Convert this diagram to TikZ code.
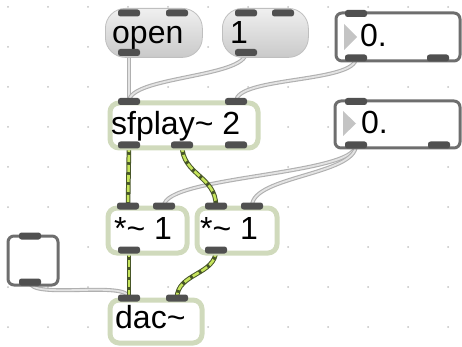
\documentclass[tikz,border=0pt]{standalone}
\usepackage{fontspec}
\setmainfont{Liberation Sans}
\usetikzlibrary{backgrounds}
\definecolor{objedge}{RGB}{208,218,188}
\definecolor{portgray}{RGB}{80,80,80}
\definecolor{numedge}{RGB}{110,110,110}
\definecolor{sigdark}{RGB}{72,86,40}
\definecolor{siglight}{RGB}{198,228,92}
\definecolor{griddot}{RGB}{195,195,195}
\definecolor{arrowgray}{RGB}{196,196,196}
\begin{document}
\begin{tikzpicture}[x=1pt,y=-1pt,
  lbl/.style={anchor=base west, inner sep=0pt, font=\fontsize{32}{36}\selectfont},
  msgbox/.style={rectangle, anchor=north west, inner sep=0pt, rounded corners=20pt,
    top color=gray!12, bottom color=gray!42, draw=gray!50, line width=0.8pt},
  objbox/.style={rectangle, anchor=north west, inner sep=0pt, draw=objedge,
    line width=5pt, fill=white, rounded corners=9pt},
  numbox/.style={rectangle, anchor=north west, inner sep=0pt, draw=numedge,
    line width=3pt, fill=white, rounded corners=6pt},
  port/.style={rectangle, inner sep=0pt, fill=portgray, rounded corners=2.5pt,
    minimum width=22pt, minimum height=7pt},
  cable/.style={draw=gray!62, line width=1.1pt, double=gray!22, double distance=1.8pt},
  signal/.style={draw=siglight, line width=2.6pt, dash pattern=on 7pt off 3pt,
    preaction={draw=sigdark, line width=4.6pt, solid}},
  play/.style={fill=arrowgray}
]
\useasboundingbox (0,0) rectangle (462,347);

% boxes
\node[msgbox, minimum width=97pt, minimum height=49pt] (open) at (105,8) {};
\node[msgbox, minimum width=86pt, minimum height=49pt] (one) at (222,8) {};
\node[numbox, minimum width=124pt, minimum height=48pt] (numA) at (334.5,11.5) {};
\node[objbox, minimum width=148pt, minimum height=45pt] (sf) at (107.5,100.5) {};
\node[numbox, minimum width=125pt, minimum height=47pt] (numB) at (333.5,99.5) {};
\node[objbox, minimum width=79pt, minimum height=45pt] (mulA) at (105.5,205.5) {};
\node[objbox, minimum width=80pt, minimum height=45pt] (mulB) at (194.5,205.5) {};
\node[numbox, minimum width=50pt, minimum height=49pt] (tog) at (6.5,234.5) {};
\node[objbox, minimum width=92pt, minimum height=43pt] (dac) at (107.5,297.5) {};

% texts
\node[lbl] (open-t) at (112,44) {open};
\node[lbl] (one-t) at (230,44) {1};
\node[lbl] (numA-t) at (360,46.5) {0.};
\node[lbl] (sf-t) at (111,135) {sfplay\textasciitilde{} 2};
\node[lbl] (numB-t) at (361,134) {0.};
\node[lbl] (mulA-t) at (114,239) {*\textasciitilde{} 1};
\node[lbl] (mulB-t) at (200,239) {*\textasciitilde{} 1};
\node[lbl] (dac-t) at (115,328) {dac\textasciitilde};

% number box arrows
\fill[play] (344,24) -- (344,50) -- (357,37) -- cycle;
\fill[play] (343,111) -- (343,136) -- (356,123.5) -- cycle;

% inlets and outlets
\node[port] (open-i1) at (129,13) {};
\node[port] (open-i2) at (177,13) {};
\node[port] (open-o1) at (129,52.5) {};
\node[port] (one-i1) at (246,13) {};
\node[port] (one-i2) at (283,13) {};
\node[port] (one-o1) at (246,52.5) {};
\node[port] (numA-i1) at (356,13.5) {};
\node[port] (numA-o1) at (356,58) {};
\node[port] (numA-o2) at (438,58) {};
\node[port] (sf-i1) at (129,101.5) {};
\node[port] (sf-i2) at (236,101.5) {};
\node[port] (sf-o1) at (129,145) {};
\node[port] (sf-o2) at (182,145) {};
\node[port] (sf-o3) at (236,145) {};
\node[port] (numB-i1) at (356,101.5) {};
\node[port] (numB-o1) at (356,145) {};
\node[port] (numB-o2) at (439,145) {};
\node[port] (mulA-i1) at (128,206) {};
\node[port] (mulA-i2) at (164,206) {};
\node[port] (mulA-o1) at (129,250) {};
\node[port] (mulB-i1) at (216,206) {};
\node[port] (mulB-i2) at (252,206) {};
\node[port] (mulB-o1) at (216,250) {};
\node[port] (tog-i1) at (30,236) {};
\node[port] (tog-o1) at (30,282) {};
\node[port] (dac-i1) at (129,298) {};
\node[port] (dac-i2) at (177,298) {};

\begin{scope}[on background layer]
  % editing grid
  \foreach \gx in {0,...,11}
    \foreach \gy in {0,...,8}
      \fill[griddot] (8+40*\gx,7+40*\gy) circle (1pt);
  % control cords
  \draw[cable] (open-o1.center) -- (sf-i1.center);
  \draw[cable] (one-o1.center) .. controls +(0,25) and +(0,-25) .. (sf-i1.center);
  \draw[cable] (numA-o1.center) .. controls +(0,25) and +(0,-25) .. (sf-i2.center);
  \draw[cable] (numB-o1.center) .. controls +(0,30) and +(0,-30) .. (mulA-i2.center);
  \draw[cable] (numB-o1.center) .. controls +(0,30) and +(0,-30) .. (mulB-i2.center);
  \draw[cable] (tog-o1.center) .. controls +(0,18) and +(0,-18) .. (dac-i1.center);
  % signal cords
  \draw[signal] (sf-o1.center) -- (mulA-i1.center);
  \draw[signal] (sf-o2.center) .. controls +(0,30) and +(0,-30) .. (mulB-i1.center);
  \draw[signal] (mulA-o1.center) -- (dac-i1.center);
  \draw[signal] (mulB-o1.center) .. controls +(0,25) and +(0,-25) .. (dac-i2.center);
\end{scope}
\end{tikzpicture}
\end{document}
